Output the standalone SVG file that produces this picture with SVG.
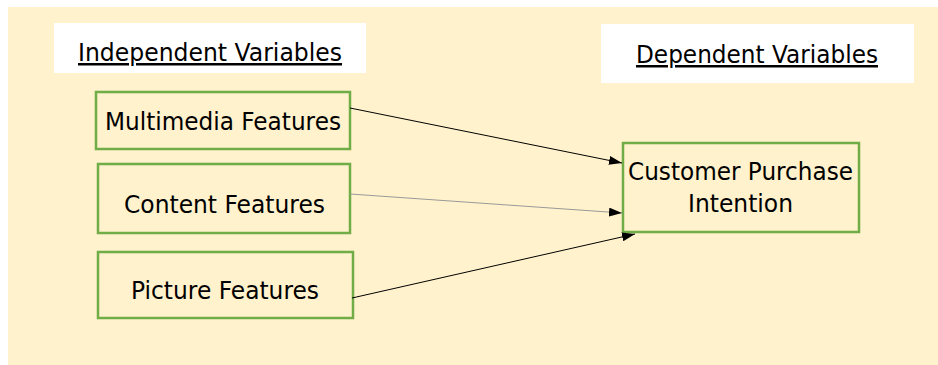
<svg xmlns="http://www.w3.org/2000/svg" width="938" height="365" viewBox="0 0 938 365">
<style>
.bg{fill:#FFF2CC}
.lbl{fill:#FFFFFF}
.box{fill:#FFF2CC;stroke:#70AD47;stroke-width:2.5}
.t{font-family:"DejaVu Sans","Liberation Sans",sans-serif;font-size:25px;fill:#000}
.h{text-decoration:underline}
.c{stroke:#000;stroke-width:1;fill:none}
</style>
<defs>
<marker id="ah" markerWidth="13" markerHeight="9" refX="13" refY="4.5" orient="auto" markerUnits="userSpaceOnUse">
<path d="M0,0 L13,4.5 L0,9 Z" fill="#000"/>
</marker>
</defs>
<rect class="bg" x="8" y="7" width="930" height="358"/>
<g id="hdr-independent">
<rect class="lbl" x="54" y="23" width="312" height="50"/>
<text class="t h" x="78" y="61" textLength="264" lengthAdjust="spacingAndGlyphs">Independent Variables</text>
</g>
<g id="hdr-dependent">
<rect class="lbl" x="601" y="24" width="313" height="59"/>
<text class="t h" x="636" y="63" textLength="242" lengthAdjust="spacingAndGlyphs">Dependent Variables</text>
</g>
<g id="multimedia">
<rect class="box" x="96" y="92" width="254" height="57"/>
<text class="t" x="105" y="130" textLength="236" lengthAdjust="spacingAndGlyphs">Multimedia Features</text>
</g>
<g id="content">
<rect class="box" x="98" y="164" width="252" height="69"/>
<text class="t" x="124" y="213" textLength="201" lengthAdjust="spacingAndGlyphs">Content Features</text>
</g>
<g id="picture">
<rect class="box" x="98" y="252" width="255" height="66"/>
<text class="t" x="131" y="299" textLength="188" lengthAdjust="spacingAndGlyphs">Picture Features</text>
</g>
<g id="intention">
<rect class="box" x="623" y="143" width="236" height="89"/>
<text class="t" x="628" y="180" textLength="225" lengthAdjust="spacingAndGlyphs">Customer Purchase</text>
<text class="t" x="688" y="212" textLength="105" lengthAdjust="spacingAndGlyphs">Intention</text>
</g>
<g id="connectors">
<line class="c" x1="350" y1="108" x2="622" y2="163" marker-end="url(#ah)"/>
<line class="c" x1="350" y1="194" x2="622" y2="213" style="stroke:#999" marker-end="url(#ah)"/>
<line class="c" x1="352" y1="298" x2="635" y2="234" marker-end="url(#ah)"/>
</g>
</svg>
